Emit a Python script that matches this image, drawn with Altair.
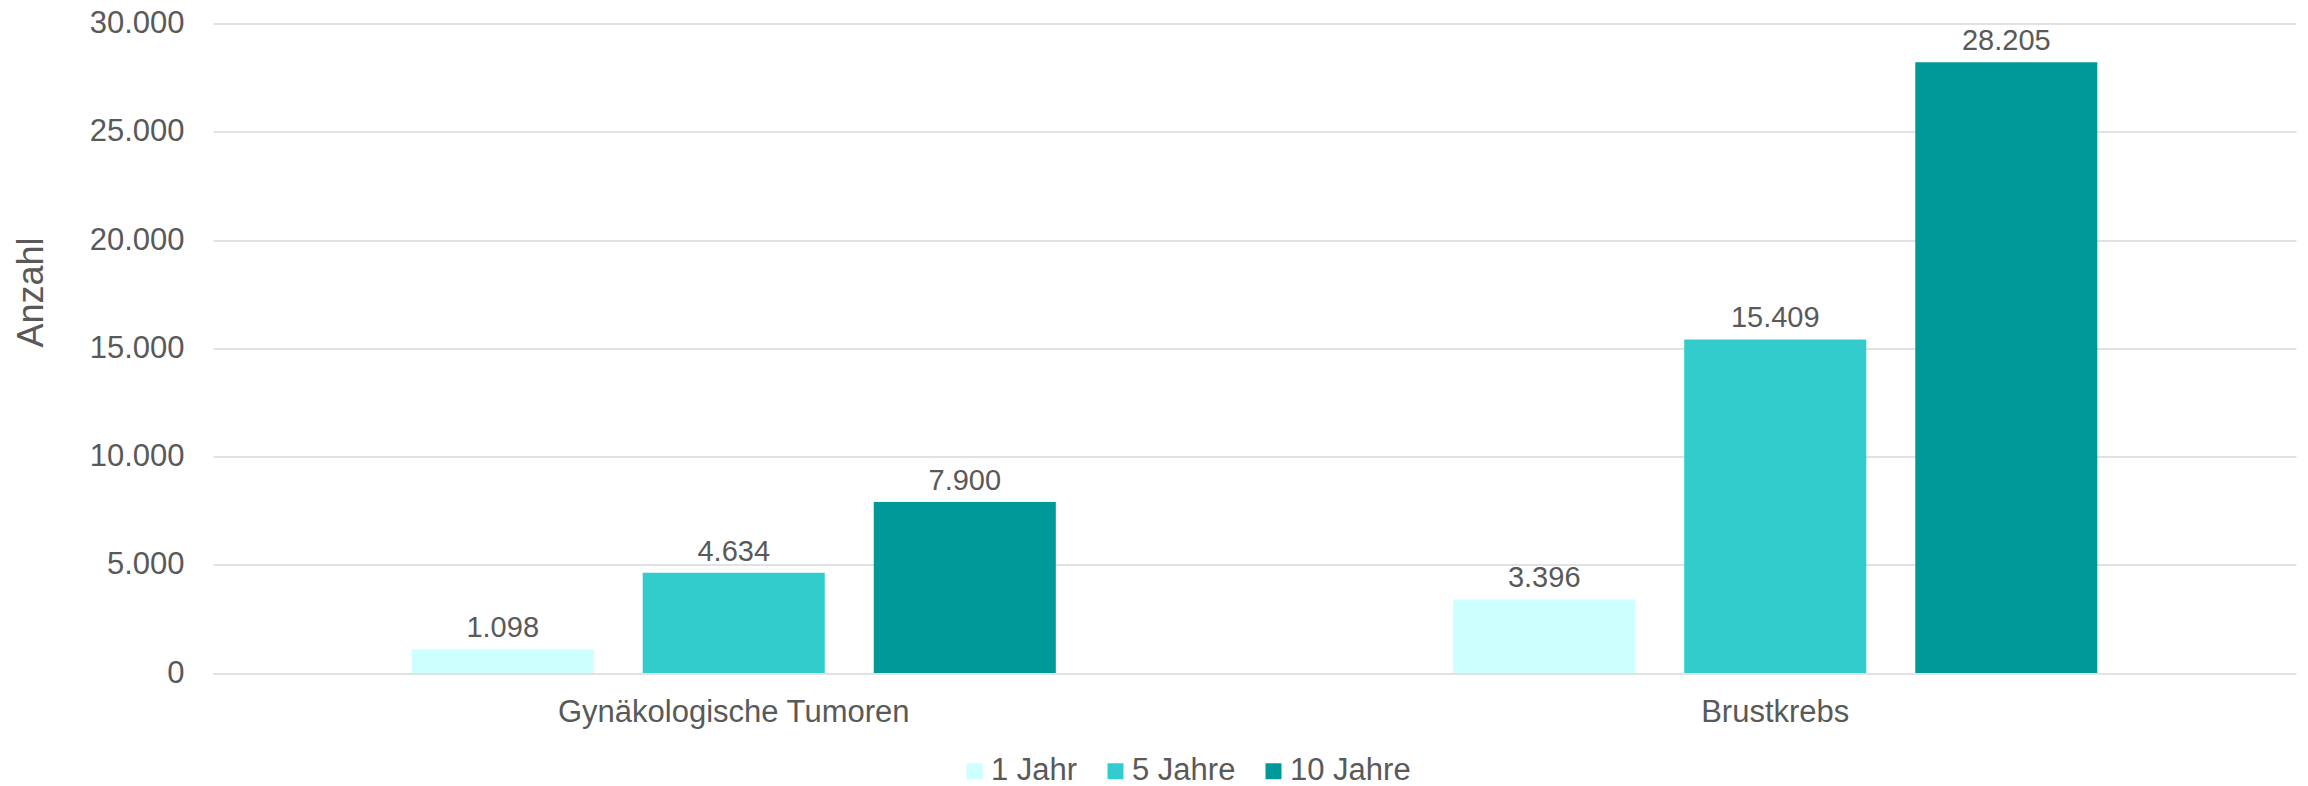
import altair as alt
import pandas as pd

categories = ["Gynäkologische Tumoren", "Brustkrebs"]
series = ["1 Jahr", "5 Jahre", "10 Jahre"]
values_1 = [1098, 3396]
values_5 = [4634, 15409]
values_10 = [7900, 28205]
colors = ["#CCFFFF", "#33CCCC", "#009999"]
y_ticks = [0, 5000, 10000, 15000, 20000, 25000, 30000]

rows = []
for s, vals in zip(series, [values_1, values_5, values_10]):
    for c, v in zip(categories, vals):
        rows.append({"cat": c, "series": s, "value": v})
df = pd.DataFrame(rows)

TXT = "#595959"
FONT = "Liberation Sans"
de_fmt = "replace(format(datum.value, ','), regexp(',', 'g'), '.')"

base = alt.Chart(df).encode(
    x=alt.X(
        "cat:N",
        sort=categories,
        scale=alt.Scale(paddingInner=0, paddingOuter=0),
        axis=alt.Axis(
            title=None, labelAngle=0, ticks=False, tickSize=0, domain=False,
            labelFontSize=31, labelColor=TXT, labelPadding=48, labelLimit=0,
            labelBaseline="alphabetic", grid=False,
        ),
    ),
    xOffset=alt.XOffset(
        "series:N", sort=series,
        scale=alt.Scale(paddingInner=0.212, paddingOuter=0.86),
    ),
    y=alt.Y(
        "value:Q",
        scale=alt.Scale(domain=[0, 30000], nice=False),
        axis=alt.Axis(
            values=y_ticks, labelExpr=de_fmt, title="Anzahl",
            ticks=False, tickSize=0, domain=False, labelPadding=29,
            labelFontSize=31, labelColor=TXT,
            gridColor="#D9D9D9", gridWidth=1.5,
            titleFontSize=36, titleFontWeight="normal", titleColor=TXT,
            titleAngle=270, titleBaseline="alphabetic", titleAlign="center",
            titleX=-171, titleY=268.5,
        ),
    ),
)

bars = base.mark_bar().encode(
    color=alt.Color(
        "series:N", sort=series,
        scale=alt.Scale(domain=series, range=colors),
        legend=alt.Legend(
            title=None, orient="none", direction="horizontal",
            legendX=746, legendY=732,
            symbolType="square", symbolSize=256, symbolStrokeWidth=0,
            labelFontSize=31, labelColor=TXT, labelOffset=1,
            columnPadding=22, padding=0, labelLimit=0,
        ),
    )
)

labels = base.mark_text(
    baseline="alphabetic", dy=-12, fontSize=29, color=TXT
).transform_calculate(
    lbl=de_fmt
).encode(text="lbl:N")

chart = (
    alt.layer(bars, labels)
    .properties(
        width=2083, height=649.5,
        padding={"left": 205, "top": 15.5, "right": 4, "bottom": 113},
        autosize=alt.AutoSizeParams(type="none"),
    )
    .configure(font=FONT)
    .configure_view(stroke=None)
)

chart.save("out.html", embed_options={"renderer": "svg", "actions": False})
